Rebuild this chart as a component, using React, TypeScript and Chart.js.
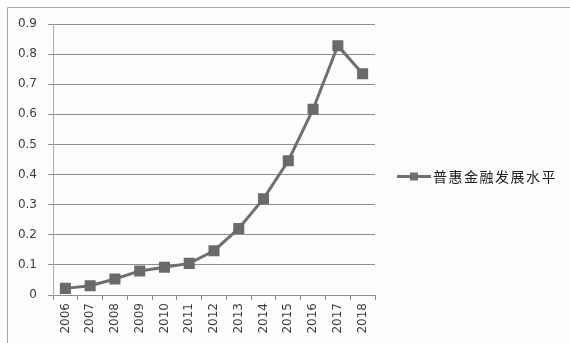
import React, { useEffect, useRef } from "react";
import { Chart, registerables } from "chart.js";

Chart.register(...registerables);

// Years on the category axis
const years = [
  "2006", "2007", "2008", "2009", "2010", "2011", "2012",
  "2013", "2014", "2015", "2016", "2017", "2018",
];

// Inclusive finance development level per year
const levels = [
  0.022, 0.031, 0.053, 0.08, 0.092, 0.105, 0.147,
  0.221, 0.32, 0.446, 0.617, 0.828, 0.735,
];

const seriesName = "普惠金融发展水平";

const yMin = 0;
const yMax = 0.9;
const yStep = 0.1;

const LINE_COLOR = "#6f6f6f";
const GRID_COLOR = "#8e8e8e";
const AXIS_COLOR = "#ababab";
const TEXT_COLOR = "#3c3c3c";

// Outer frame and background of the chart
const framePlugin = {
  id: "frame",
  beforeDraw(chart: Chart) {
    const { ctx, width, height } = chart;
    ctx.save();
    ctx.fillStyle = "#fdfdfd";
    ctx.fillRect(0, 0, width, height);
    ctx.strokeStyle = "#a6a6a6";
    ctx.lineWidth = 1;
    ctx.beginPath();
    ctx.moveTo(7.5, height);
    ctx.lineTo(7.5, 7.5);
    ctx.lineTo(width, 7.5);
    ctx.stroke();
    ctx.restore();
  },
};

// Legend entry drawn to the right of the plot
const legendPlugin = {
  id: "sideLegend",
  afterDraw(chart: Chart) {
    const { ctx } = chart;
    const y = 176.5;
    ctx.save();
    ctx.strokeStyle = LINE_COLOR;
    ctx.lineWidth = 3;
    ctx.beginPath();
    ctx.moveTo(397, y);
    ctx.lineTo(431, y);
    ctx.stroke();
    ctx.fillStyle = LINE_COLOR;
    ctx.fillRect(410, y - 4, 8, 8);
    ctx.fillStyle = "#1e1e1e";
    ctx.font = '14px "Noto Sans CJK SC"';
    (ctx as any).letterSpacing = "1.5px";
    ctx.textBaseline = "middle";
    ctx.textAlign = "left";
    const ds = chart.data.datasets[0];
    ctx.fillText(String(ds.label ?? ""), 433, y);
    ctx.restore();
  },
};

export default function App() {
  const canvasRef = useRef<HTMLCanvasElement | null>(null);

  useEffect(() => {
    const canvas = canvasRef.current;
    if (!canvas) return;
    const chart = new Chart(canvas, {
      type: "line",
      data: {
        labels: years,
        datasets: [
          {
            label: seriesName,
            data: levels,
            borderColor: LINE_COLOR,
            backgroundColor: LINE_COLOR,
            borderWidth: 3,
            pointStyle: "rect",
            pointRadius: 7.8,
            pointBorderWidth: 0,
            pointBackgroundColor: "#6a6a6a",
            pointBorderColor: "#6a6a6a",
            tension: 0,
          },
        ],
      },
      options: {
        responsive: false,
        animation: false,
        layout: { padding: { top: 24, right: 195, left: 0, bottom: 0 } },
        plugins: {
          legend: { display: false },
          tooltip: { enabled: false },
        },
        scales: {
          x: {
            offset: true,
            grid: {
              offset: true,
              drawOnChartArea: false,
              drawTicks: true,
              tickLength: 5,
              color: GRID_COLOR,
            },
            border: { display: true, color: GRID_COLOR },
            ticks: {
              autoSkip: false,
              minRotation: 90,
              maxRotation: 90,
              padding: 3,
              color: TEXT_COLOR,
              font: { family: "DejaVu Sans", size: 12 },
            },
            afterFit: (scale: any) => {
              scale.height = 48;
            },
          },
          y: {
            min: yMin,
            max: yMax,
            ticks: {
              stepSize: yStep,
              padding: 11,
              color: TEXT_COLOR,
              font: { family: "DejaVu Sans", size: 12 },
              callback: (v: any) => (Number(v) === 0 ? "0" : Number(v).toFixed(1)),
            },
            grid: { color: GRID_COLOR, tickLength: 5 },
            border: { color: AXIS_COLOR },
            afterFit: (scale: any) => {
              scale.width = 53;
            },
          },
        },
      },
      plugins: [framePlugin, legendPlugin],
    });
    return () => chart.destroy();
  }, []);

  return (
    <div style={{ position: "absolute", left: 0, top: 0, width: 570, height: 343 }}>
      <canvas ref={canvasRef} width={570} height={343} style={{ width: 570, height: 343 }} />
    </div>
  );
}
